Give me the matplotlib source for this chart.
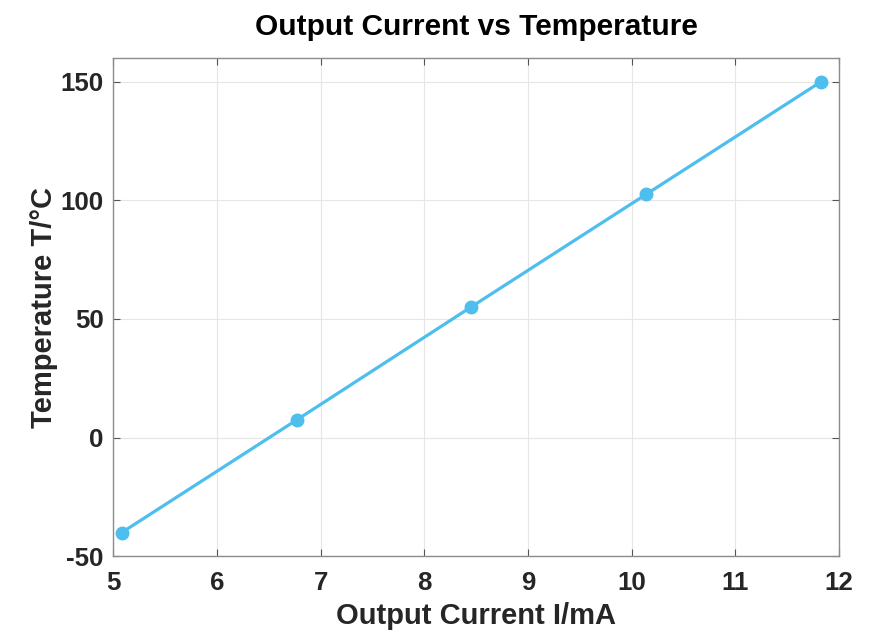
import matplotlib.pyplot as plt

current = [5.08, 6.77, 8.45, 10.14, 11.83]
temperature = [-40, 7.5, 55, 102.5, 150]
x_ticks = [5, 6, 7, 8, 9, 10, 11, 12]
y_ticks = [-50, 0, 50, 100, 150]

plt.rcParams['font.family'] = ['Liberation Sans', 'DejaVu Sans']
plt.rcParams['font.weight'] = 'bold'
plt.rcParams['axes.unicode_minus'] = False

fig = plt.figure(figsize=(8.73, 6.35), dpi=100)
ax = fig.add_axes([0.130, 0.124, 0.831, 0.785])

ax.plot(current, temperature, color='#4DBEEE', linewidth=2.3,
        marker='o', markersize=9)

ax.set_xlim(5, 12)
ax.set_ylim(-50, 160)
ax.set_xticks(x_ticks)
ax.set_yticks(y_ticks)
ax.grid(True, color='#e6e6e6', linewidth=0.8)
ax.set_axisbelow(True)

for s in ax.spines.values():
    s.set_color('#8c8c8c')
    s.set_linewidth(1.0)
ax.tick_params(direction='in', length=5, color='#555555', labelsize=18.6,
               labelcolor='#262626', top=True, right=True)
ax.tick_params(axis='x', pad=10.5)
ax.tick_params(axis='y', pad=7.2)

ax.set_xlabel('Output Current I/mA', fontsize=21, fontweight='bold', color='#262626', labelpad=5)
ax.set_ylabel('Temperature T/°C', fontsize=21, fontweight='bold', color='#262626', labelpad=2)
ax.set_title('Output Current vs Temperature', fontsize=21.5, fontweight='bold', pad=16.5)

plt.savefig('out.png', dpi=100)
